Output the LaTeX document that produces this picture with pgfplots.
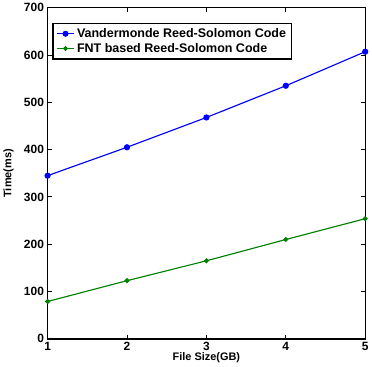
\documentclass[border=0pt]{standalone}
\usepackage{pgfplots}
\pgfplotsset{compat=1.18}
\usepackage{fontspec}
\setmainfont{Liberation Sans}
\definecolor{mblue}{RGB}{0,0,255}
\definecolor{mgreen}{RGB}{0,128,0}
\begin{document}
\begin{tikzpicture}
\begin{axis}[
  scale only axis,
  width=305pt, height=318pt,
  xmin=1, xmax=5, ymin=0, ymax=700,
  xtick={1,2,3,4,5}, ytick={0,100,...,700},
  tick align=inside,
  major tick length=4pt,
  axis line style={line width=1.3pt},
  tick style={black, line width=0.9pt},
  /pgf/number format/assume math mode=true,
  ticklabel style={font=\fontsize{11.5}{13}\selectfont\bfseries},
  xlabel={File Size(GB)}, ylabel={Time(ms)},
  label style={font=\fontsize{10.5}{12}\selectfont\bfseries},
  xlabel style={yshift=5pt},
  ylabel style={yshift=3pt},
  legend style={at={(0.015,0.955)}, anchor=north west, draw=black, line width=1.2pt,
    font=\fontsize{12}{14}\selectfont\bfseries, row sep=0pt, inner sep=3pt},
  legend cell align=left,
  legend image post style={line width=1pt},
]
\addplot[mblue, line width=1.1pt, mark=*, mark size=2.4pt] coordinates {
  (1,345) (2,405) (3,468) (4,535) (5,607)};
\addlegendentry{Vandermonde Reed-Solomon Code}
\addplot[mgreen, line width=1.1pt, mark=*, mark size=1.8pt] coordinates {
  (1,79) (2,123) (3,165) (4,210) (5,254)};
\addlegendentry{FNT based Reed-Solomon Code}
\end{axis}
\end{tikzpicture}
\end{document}
